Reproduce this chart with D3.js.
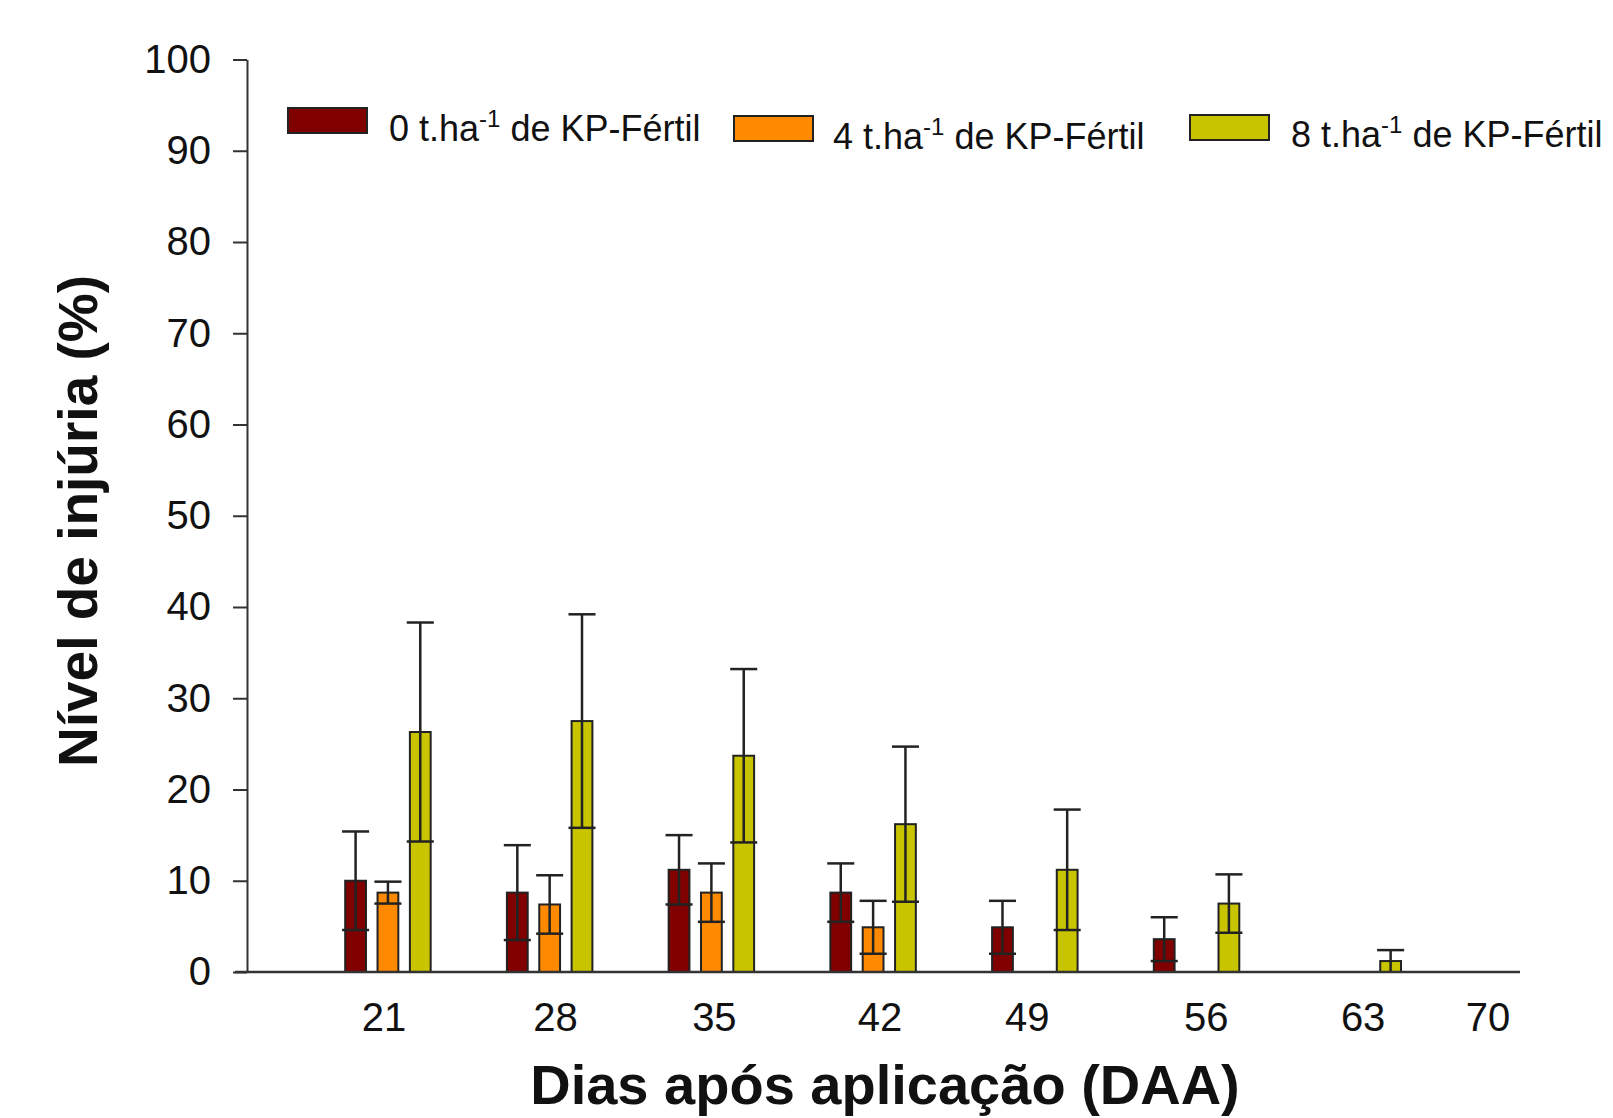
<!DOCTYPE html>
<html>
<head>
<meta charset="utf-8">
<script src="https://cdn.jsdelivr.net/npm/d3@7"></script>
<style>
  body { margin: 0; background: #fff; }
  svg { display: block; font-family: "Liberation Sans", Arial, sans-serif; }
</style>
</head>
<body>
<svg id="chart"></svg>
<script>
// Days after application (group positions)
const days = [21, 28, 35, 42, 49, 56, 63, 70];

// Mean injury (%) per treatment
const dose0 = [10.0, 8.7, 11.2, 8.7, 4.9, 3.6, 0, 0];
const dose4 = [8.7, 7.4, 8.7, 4.9, 0, 0, 0, 0];
const dose8 = [26.3, 27.5, 23.7, 16.2, 11.2, 7.5, 1.2, 0];

// Error (± half range) per treatment
const err0 = [5.4, 5.2, 3.8, 3.2, 2.9, 2.4, 0, 0];
const err4 = [1.2, 3.2, 3.2, 2.9, 0, 0, 0, 0];
const err8 = [12.0, 11.7, 9.5, 8.5, 6.6, 3.2, 1.2, 0];

// Tick labels and where they sit on the day axis
const xTickLabels = ["21", "28", "35", "42", "49", "56", "63", "70"];
const xTickAt = [20.83, 28.25, 35.13, 42.3, 48.67, 56.42, 63.21, 68.62];
const yTicks = [0, 10, 20, 30, 40, 50, 60, 70, 80, 90, 100];

const seriesNames = ["0", "4", "8"];
const colors = ["#800000", "#ff8a00", "#c8c400"];

const width = 1613;
const height = 1118;

const svg = d3.select("#chart")
  .attr("width", width)
  .attr("height", height)
  .attr("viewBox", [0, 0, width, height]);

// Scales
const x = d3.scaleLinear().domain([14.9, 70]).range([247, 1520]);
const y = d3.scaleLinear().domain([0, 100]).range([972, 59.5]);

const series = [
  { name: seriesNames[0], color: colors[0], values: dose0, errs: err0, offset: -1.4 },
  { name: seriesNames[1], color: colors[1], values: dose4, errs: err4, offset: 0 },
  { name: seriesNames[2], color: colors[2], values: dose8, errs: err8, offset: 1.4 }
];

const barW = x(15.8) - x(14.9);
const capW = x(16.07) - x(14.9);

// Bars
series.forEach((s) => {
  const pts = days.map((d, i) => ({ day: d, v: s.values[i], e: s.errs[i] })).filter((p) => p.v > 0);
  const g = svg.append("g");
  g.selectAll("rect")
    .data(pts)
    .join("rect")
    .attr("x", (p) => x(p.day + s.offset) - barW / 2)
    .attr("y", (p) => y(p.v))
    .attr("width", barW)
    .attr("height", (p) => y(0) - y(p.v))
    .attr("fill", s.color)
    .attr("stroke", "#222")
    .attr("stroke-width", 2);

  // error bars: stem + caps at both ends
  const eb = g.append("g").attr("stroke", "#222").attr("stroke-width", 2.5);
  eb.selectAll("line.stem")
    .data(pts)
    .join("line")
    .attr("class", "stem")
    .attr("x1", (p) => x(p.day + s.offset))
    .attr("x2", (p) => x(p.day + s.offset))
    .attr("y1", (p) => y(Math.max(0, p.v - p.e)))
    .attr("y2", (p) => y(p.v + p.e));
  eb.selectAll("line.top")
    .data(pts)
    .join("line")
    .attr("class", "top")
    .attr("x1", (p) => x(p.day + s.offset) - capW / 2)
    .attr("x2", (p) => x(p.day + s.offset) + capW / 2)
    .attr("y1", (p) => y(p.v + p.e))
    .attr("y2", (p) => y(p.v + p.e));
  eb.selectAll("line.bot")
    .data(pts.filter((p) => p.v - p.e > 0.3))
    .join("line")
    .attr("class", "bot")
    .attr("x1", (p) => x(p.day + s.offset) - capW / 2)
    .attr("x2", (p) => x(p.day + s.offset) + capW / 2)
    .attr("y1", (p) => y(p.v - p.e))
    .attr("y2", (p) => y(p.v - p.e));
});

// Y axis
svg.append("g")
  .attr("transform", `translate(${x(14.9)},0)`)
  .call(d3.axisLeft(y).tickValues(yTicks).tickSize(14).tickPadding(22).tickSizeOuter(0))
  .call((g) => g.select(".domain").attr("stroke", "#333").attr("stroke-width", 2))
  .call((g) => g.selectAll(".tick line").attr("stroke", "#333").attr("stroke-width", 2))
  .call((g) => g.selectAll(".tick text")
    .attr("font-size", 40)
    .attr("fill", "#111")
    .attr("font-family", "Liberation Sans, Arial, sans-serif"));

// X axis: baseline and labels
svg.append("line")
  .attr("x1", x(14.9) - 12)
  .attr("x2", x(70))
  .attr("y1", y(0))
  .attr("y2", y(0))
  .attr("stroke", "#333")
  .attr("stroke-width", 2.5);

svg.append("g")
  .selectAll("text")
  .data(xTickLabels)
  .join("text")
  .attr("x", (d, i) => x(xTickAt[i]))
  .attr("y", 1031)
  .attr("text-anchor", "middle")
  .attr("font-size", 40)
  .attr("fill", "#111")
  .text((d) => d);

// Axis titles
svg.append("text")
  .attr("transform", `translate(97,521) rotate(-90)`)
  .attr("text-anchor", "middle")
  .attr("font-size", 55)
  .attr("font-weight", "bold")
  .attr("fill", "#111")
  .text("Nível de injúria (%)");

svg.append("text")
  .attr("x", 885)
  .attr("y", 1104)
  .attr("text-anchor", "middle")
  .attr("font-size", 56)
  .attr("font-weight", "bold")
  .attr("fill", "#111")
  .text("Dias após aplicação (DAA)");

// Legend
const legendItems = [
  { label: seriesNames[0], color: colors[0], rx: 288, ry: 108, tx: 389, ty: 141 },
  { label: seriesNames[1], color: colors[1], rx: 734, ry: 116, tx: 833, ty: 149 },
  { label: seriesNames[2], color: colors[2], rx: 1190, ry: 115, tx: 1291, ty: 147 }
];

const legend = svg.append("g");
legend.selectAll("rect")
  .data(legendItems)
  .join("rect")
  .attr("x", (d) => d.rx)
  .attr("y", (d) => d.ry)
  .attr("width", 79)
  .attr("height", 25)
  .attr("fill", (d) => d.color)
  .attr("stroke", "#222")
  .attr("stroke-width", 2);

const lt = legend.selectAll("text")
  .data(legendItems)
  .join("text")
  .attr("x", (d) => d.tx)
  .attr("y", (d) => d.ty)
  .attr("font-size", 36)
  .attr("fill", "#111");
lt.append("tspan").text((d) => `${d.label} t.ha`);
lt.append("tspan").attr("dy", -14).attr("font-size", 24).text("-1");
lt.append("tspan").attr("dy", 14).text(" de KP-Fértil");
</script>
</body>
</html>
